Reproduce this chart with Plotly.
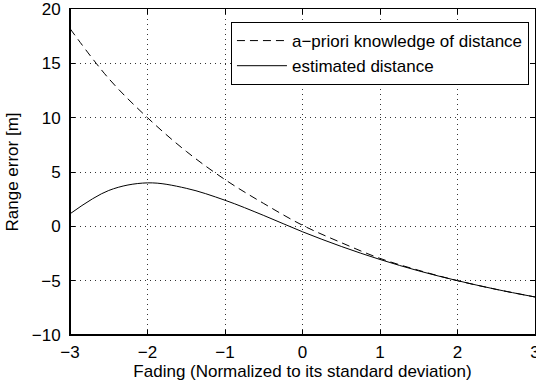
import plotly.graph_objects as go

x_vals = [-3.0, -2.5, -2.0, -1.5, -1.0, -0.5, 0.0, 0.5, 1.0, 1.5, 2.0, 2.5, 3.0]
apriori = [18.2, 13.6, 10.0, 6.9, 4.3, 2.1, 0.1, -1.5, -2.95, -4.05, -5.0, -5.8, -6.5]
estimated = [1.15, 3.3, 4.0, 3.5, 2.4, 1.0, -0.5, -1.85, -3.05, -4.1, -5.0, -5.8, -6.5]

x_ticks = [-3, -2, -1, 0, 1, 2, 3]
x_ticktext = ["\u22123", "\u22122", "\u22121", "0", "1", "2", "3"]
y_ticks = [-10, -5, 0, 5, 10, 15, 20]
y_ticktext = ["\u221210", "\u22125", "0", "5", "10", "15", "20"]

FONT = "Liberation Sans, Arial, Helvetica, sans-serif"
FS = 17

fig = go.Figure()
fig.add_trace(go.Scatter(x=x_vals, y=apriori, mode="lines", line_shape="spline",
                         name="a\u2212priori knowledge of distance",
                         line=dict(color="black", width=1, dash="8px,5px")))
fig.add_trace(go.Scatter(x=x_vals, y=estimated, mode="lines", line_shape="spline",
                         name="estimated distance",
                         line=dict(color="black", width=1)))

axis_common = dict(
    showline=True, linecolor="black", linewidth=1, mirror="ticks",
    ticks="inside", ticklen=5, tickcolor="black", tickwidth=1,
    showgrid=True, gridcolor="#333333", gridwidth=1, griddash="1px,4px",
    zeroline=False, tickfont=dict(family=FONT, size=FS, color="black"),
    ticklabeloverflow="allow", automargin=False,
)

fig.update_xaxes(range=[-3, 3], tickvals=x_ticks, ticktext=x_ticktext,
                 title=dict(text="Fading (Normalized to its standard deviation)",
                            font=dict(family=FONT, size=FS, color="black"), standoff=1),
                 ticklabelstandoff=2, **axis_common)
fig.update_yaxes(range=[-10, 20], tickvals=y_ticks, ticktext=y_ticktext,
                 title=dict(text="Range error [m]",
                            font=dict(family=FONT, size=FS, color="black"), standoff=8),
                 ticklabelstandoff=5, **axis_common)

# heavier left and bottom frame lines (as in the reference)
fig.add_shape(type="line", xref="paper", yref="paper", x0=0, x1=0, y0=0, y1=1,
              line=dict(color="black", width=2))
fig.add_shape(type="line", xref="paper", yref="paper", x0=0, x1=1, y0=0, y1=0,
              line=dict(color="black", width=2))

fig.update_layout(
    width=536, height=386,
    margin=dict(l=70, r=1, t=9, b=51),
    paper_bgcolor="white", plot_bgcolor="white",
    font=dict(family=FONT, size=FS, color="black"),
    legend=dict(x=0.987, y=0.96, xanchor="right", yanchor="top",
                bgcolor="white", bordercolor="black", borderwidth=1,
                font=dict(family=FONT, size=FS, color="black"),
                itemwidth=50, tracegroupgap=0),
    showlegend=True,
)

fig.write_html("out.html")
